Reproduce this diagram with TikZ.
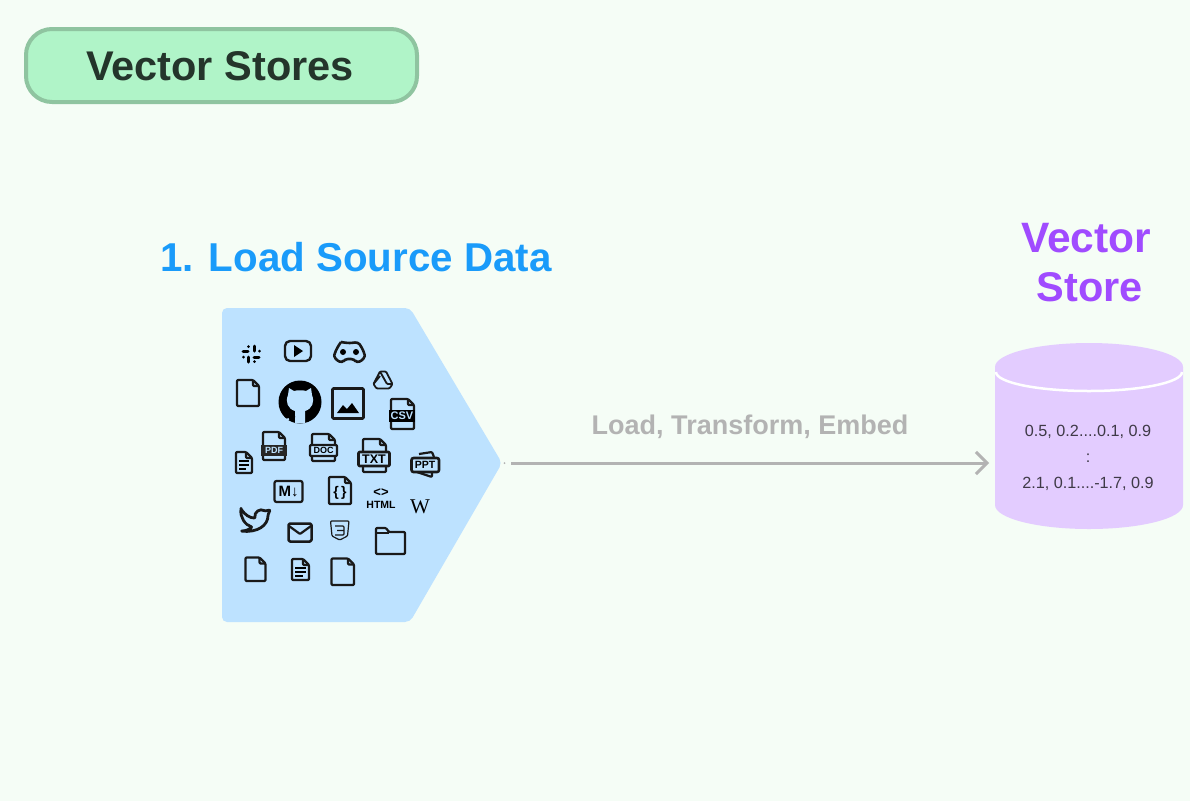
\documentclass[tikz,border=0pt]{standalone}
\usepackage{fontspec}
\setmainfont{Liberation Sans}
\newfontfamily\wikifont{Liberation Serif}
\usetikzlibrary{arrows.meta}
\definecolor{pagebg}{HTML}{F5FDF6}
\definecolor{badgefill}{HTML}{B0F4C8}
\definecolor{badgeline}{HTML}{8FC4A0}
\definecolor{badgetext}{HTML}{24352B}
\definecolor{loadblue}{HTML}{1A9BFA}
\definecolor{srcblue}{HTML}{BDE2FF}
\definecolor{storepurple}{HTML}{A04BFF}
\definecolor{storefill}{HTML}{E3CCFF}
\definecolor{storetext}{HTML}{3F3A47}
\definecolor{flowgray}{HTML}{B3B3B3}
\tikzset{iconline/.style = {draw = black!90, line width = 2.2, rounded corners = 1, line join = round}}
\tikzset{thinicon/.style = {iconline, line width = 1.2}}
\tikzset{heading/.style = {font = \fontsize{41.5}{44}\bfseries\selectfont, inner sep = 0}}
\tikzset{vecrow/.style = {font = \fontsize{16.2}{18}\selectfont, text = storetext, inner sep = 0}}
\tikzset{bandtext/.style = {font = \fontsize{10.5}{11}\bfseries\selectfont, inner sep = 0}}
\newcommand{\docsheet}[4]{
	\draw [iconline] (#1,#2) -- ({#3-6},#2) -- (#3,{#2+6}) -- (#3,#4) -- (#1,#4) -- cycle;
	\draw [iconline] ({#3-6},#2) -- ({#3-6},{#2+6}) -- (#3,{#2+6});
}
\begin{document}
\begin{tikzpicture}[x = 1pt, y = -1pt]
	\useasboundingbox [fill = pagebg] (0,0) rectangle (1190,801);

	\draw [fill = badgefill, draw = badgeline, line width = 4, rounded corners = 26] (26,29) rectangle (417,102);
	\node [heading, text = badgetext] (badge) at (220,66) {Vector Stores};

	\node [heading, text = loadblue, font = \fontsize{40.3}{44}\bfseries\selectfont] (loadtitle) at (356,257) {1. Load Source Data};
	\node [heading, text = storepurple, font = \fontsize{42.5}{44}\bfseries\selectfont] (storetop) at (1086,238) {Vector};
	\node [heading, text = storepurple] (storebot) at (1090,287) {Store};

	\fill [srcblue, rounded corners = 5] (222,308) -- (410,308) -- (502,463) -- (410,622) -- (222,622) -- cycle;
	\coordinate (srctip) at (502,463);
	\fill [flowgray] (504.5,463) circle (1);

	\fill [storefill] (995,367) -- (995,505) arc [start angle = 180, end angle = 0, x radius = 94, y radius = 24] -- (1183,367) -- cycle;
	\fill [storefill] (1089,367) ellipse [x radius = 94, y radius = 24];
	\draw [white, line width = 2.5] (996,372) arc [start angle = 180, end angle = 0, x radius = 93, y radius = 19];
	\node [vecrow] (vecfirst) at (1088,432) {0.5, 0.2....0.1, 0.9};
	\node [vecrow] (vecdots) at (1088,458) {:};
	\node [vecrow] (veclast) at (1088,484) {2.1, 0.1....-1.7, 0.9};

	\coordinate (flowstart) at (511,463);
	\coordinate (flowend) at (989,463);
	\draw [flowgray, line width = 3, -{Straight Barb[length = 11, width = 22, line width = 3]}] (flowstart) -- (flowend);
	\node [text = flowgray, font = \fontsize{27}{30}\bfseries\selectfont, inner sep = 0] (flowlabel) at (750,427) {Load, Transform, Embed};

	% slack
	\draw [line width = 3, line cap = round] (243,351) -- (248,351) (248,346.5) -- (248,346.6)
		(254,346) -- (254,351) (259,351) -- (259,351.1)
		(254,357) -- (259,357) (254,361.5) -- (254,361.6)
		(248,357) -- (248,362) (243,357) -- (243,357.1);
	% youtube
	\draw [iconline, line width = 2.4, rounded corners = 5] (285,341) rectangle (311,361);
	\fill (294,345) -- (303,351) -- (294,357) -- cycle;
	% discord
	\draw [iconline, line width = 2.6, rounded corners = 3] (341,342) -- (347,343) -- (352,343) -- (358,342) .. controls (363,349) and (365,355) .. (364,359) -- (357,363) -- (354,359) -- (345,359) -- (342,363) -- (335,359) .. controls (334,355) and (336,349) .. (341,342);
	\fill (343,352) circle (3) (356,352) circle (3);

	\docsheet{237}{380}{259}{406}
	% github
	\fill (300,402) circle (21.5);
	\fill [srcblue] (289,388) -- (294,391) .. controls (297,390) and (303,390) .. (306,391) -- (311,388) -- (312,395) .. controls (315,402) and (312,409) .. (305,411) -- (305,423) -- (295,423) -- (295,411) .. controls (288,409) and (285,402) .. (288,395) -- cycle;
	\draw [line width = 1.6] (295,417) .. controls (290,418) and (289,414) .. (285,413);
	\draw [line width = 1.6, srcblue] (283,420) -- (289,419);
	% image
	\draw [iconline, line width = 2.8] (332.5,388.5) rectangle (363.5,418.5);
	\fill (337,413) -- (343,405) -- (347,409) -- (352,403) -- (359,413) -- cycle;
	% drive
	\draw [thinicon, line width = 1.8] (380,371.5) -- (386,371.5) -- (392.5,384) -- (389.5,388.5) -- (376.5,388.5) -- (373.5,384) -- cycle;
	\draw [thinicon, line width = 1.8] (380,371.5) -- (387,384) -- (392.5,384) (373.5,384) -- (380,376);

	\docsheet{391}{399}{414}{429}
	\fill (389,410) rectangle (415,422);
	\node [bandtext, text = srcblue, font = \fontsize{11}{12}\bfseries\selectfont] (csv) at (402,416) {CSV};

	\docsheet{263}{432}{285}{460}
	\fill [black!85] (261,445) rectangle (287,456);
	\node [bandtext, text = srcblue, font = \fontsize{9}{10}\bfseries\selectfont] (pdf) at (274,450.5) {PDF};

	\docsheet{312}{434}{335}{461}
	\draw [iconline, fill = srcblue] (310,445) rectangle (337,456);
	\node [bandtext, font = \fontsize{9}{10}\bfseries\selectfont] (docband) at (323.5,450.5) {DOC};

	\docsheet{363}{439}{386}{472}
	\draw [iconline, line width = 2.6, fill = srcblue] (358.5,452) rectangle (389.5,466);
	\node [bandtext, font = \fontsize{12.5}{13}\bfseries\selectfont] (txt) at (374,459) {TXT};

	\draw [iconline] (419,454) -- (432,452) -- (434,457) (417,472) -- (432,477) -- (432,472);
	\draw [iconline, line width = 2.6, fill = srcblue, rounded corners = 2] (411.5,458) rectangle (439,472);
	\node [bandtext] (ppt) at (425,465) {PPT};

	\docsheet{236}{452}{252}{473}
	\draw [line width = 1.4] (239,461) -- (249,461) (239,465) -- (249,465) (239,469) -- (246,469);

	\draw [iconline, rounded corners = 2] (274.5,481) rectangle (302.5,502);
	\node [bandtext, font = \fontsize{15}{16}\bfseries\selectfont] (mdown) at (288.5,491.5) {M↓};

	\docsheet{329}{477}{351}{504}
	\node [bandtext, font = \fontsize{14}{15}\bfseries\selectfont] (json) at (340,493) {\{\,\}};

	\node [bandtext, font = \fontsize{13}{14}\bfseries\selectfont] (htmltag) at (381,493) {<>};
	\node [bandtext] (html) at (381,504.5) {HTML};
	\node [inner sep = 0, font = \wikifont\fontsize{21}{22}\selectfont] (wiki) at (420,507) {W};

	% twitter
	\draw [iconline, line width = 2.8, rounded corners = 0.7] (241,509) .. controls (245,515) and (250,518) .. (255,518) .. controls (254,512) and (260,508) .. (265,511) -- (270,510) -- (268,515) .. controls (268,525) and (258,533) .. (241,531) .. controls (246,531) and (250,529) .. (252,527) .. controls (245,525) and (240,517) .. (241,509) -- cycle;

	\draw [iconline, line width = 2.5, rounded corners = 1.5] (288.5,523.5) rectangle (311.5,541.5);
	\draw [iconline] (289,526) -- (300,534) -- (311,526);

	\draw [thinicon] (330.5,521) -- (349,521) -- (347.5,536) -- (339.7,540) -- (332,536) -- cycle;
	\draw [thinicon] (335,526) -- (344,526) -- (344,535) -- (335,535) (337,530.5) -- (344,530.5);

	\draw [iconline] (376,528) -- (386,528) -- (389,532) -- (405,532) -- (405,554) -- (376,554) -- cycle;
	\draw [thinicon] (376,533) -- (389,533);

	\docsheet{245.5}{557.5}{265.5}{581}
	\docsheet{292}{559}{309}{580}
	\draw [line width = 1.4] (295,568) -- (306,568) (295,572) -- (306,572) (295,576) -- (303,576);
	\docsheet{331.5}{558.5}{354}{585}
\end{tikzpicture}
\end{document}
